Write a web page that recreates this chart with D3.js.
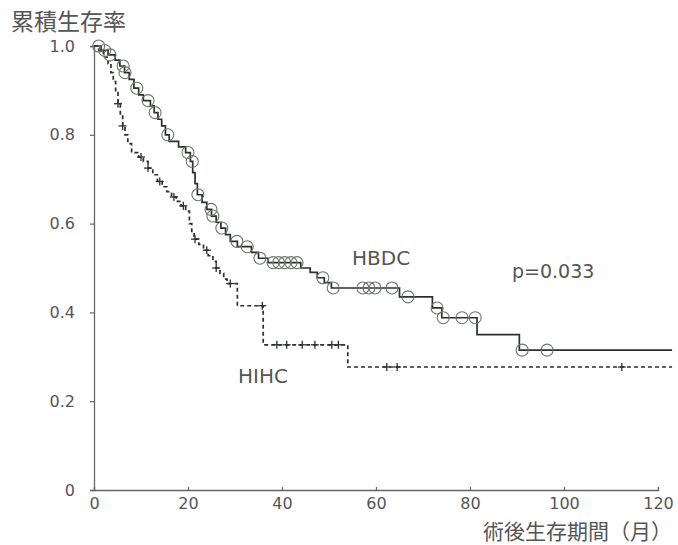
<!DOCTYPE html>
<html>
<head>
<meta charset="utf-8">
<script src="https://cdn.jsdelivr.net/npm/d3@7"></script>
<style>
  html, body { margin: 0; padding: 0; background: #fff; }
  svg { display: block; }
  text { font-family: "DejaVu Sans", "Noto Sans", sans-serif; fill: #555; }
  .cjk { font-family: "Noto Sans CJK JP", "Noto Sans CJK SC", sans-serif; }
</style>
</head>
<body>
<div id="chart"></div>
<script>
// Kaplan-Meier steps (months, cumulative survival)
const hbdcTimes = [0, 1.5, 3, 4.5, 5.5, 6.5, 7.5, 8.5, 9.5, 10.5, 12, 12.8, 13.6, 14.4, 15.2, 16, 18, 19.5, 20.5, 21, 21.5, 22,
  23, 24, 25, 26, 27, 28, 29, 30.5, 33.5, 35, 37, 44, 46, 47.5, 49, 50.5, 65, 72, 74, 81.5, 90.5];
const hbdcSurv = [1, 0.99, 0.98, 0.968, 0.955, 0.94, 0.925, 0.905, 0.89, 0.877, 0.865, 0.85, 0.835, 0.82, 0.8, 0.785, 0.773, 0.76, 0.74, 0.715, 0.69, 0.665,
  0.648, 0.632, 0.617, 0.603, 0.59, 0.575, 0.56, 0.548, 0.535, 0.522, 0.512, 0.5, 0.49, 0.478, 0.467, 0.455, 0.435, 0.41, 0.388, 0.35, 0.315];
const hbdcCensor = [1, 2.3, 3.4, 6.2, 6.6, 9.1, 11.5, 13, 15.7, 20, 20.9, 22.1, 24.9, 25.3, 27.2, 30.4, 32.6, 35.3,
  38.1, 39.3, 40.6, 41.9, 43.2, 48.7, 50.9, 57.2, 58.5, 59.8, 63.4, 66.8, 73, 74.3, 78.3, 81.1, 91.1, 96.4];

const hihcTimes = [0, 1, 2, 3, 3.6, 4.1, 4.6, 5.1, 5.6, 6.1, 6.6, 7.2, 8, 9.5, 10.5, 11.5, 12.5, 13.5, 14.5, 15.5, 16.5, 17.5,
  18.5, 19.5, 20.3, 20.8, 21.3, 22.3, 23.3, 24.3, 25.3, 26, 26.8, 27.6, 28.3, 30.5, 36, 54];
const hihcSurv = [1, 0.99, 0.975, 0.96, 0.94, 0.92, 0.895, 0.87, 0.845, 0.82, 0.8, 0.78, 0.76, 0.75, 0.74, 0.725, 0.71, 0.695, 0.683, 0.672, 0.66, 0.65,
  0.64, 0.628, 0.6, 0.58, 0.565, 0.553, 0.54, 0.528, 0.515, 0.5, 0.488, 0.475, 0.465, 0.415, 0.327, 0.277];
const hihcCensor = [5.1, 6.1, 10, 11.5, 14, 17, 19, 21.5, 24, 26, 29, 35.8, 38.9, 41, 44.3, 47, 50.6, 52, 62.3, 64.5, 112.3];

const followEnd = 123;
const xTicks = [0, 20, 40, 60, 80, 100, 120];
const yTicks = [0, 0.2, 0.4, 0.6, 0.8, 1.0];

const W = 678, H = 545;
const svg = d3.select('#chart').append('svg')
  .attr('width', W)
  .attr('height', H);

const x = d3.scaleLinear().domain([0, 120]).range([94, 658]);
const y = d3.scaleLinear().domain([0, 1]).range([490, 46]);

const axisColor = '#666';
const lineColor = '#2b302c';

// axes
const yAxis = svg.append('g')
  .attr('transform', `translate(${x(0)},0)`)
  .call(d3.axisLeft(y).tickValues(yTicks).tickSize(4).tickPadding(15)
    .tickFormat(d => d === 0 ? '0' : d.toFixed(1)));
const xAxis = svg.append('g')
  .attr('transform', `translate(0,${y(0)})`)
  .call(d3.axisBottom(x).tickValues(xTicks).tickSize(-3).tickPadding(8));

[yAxis, xAxis].forEach(g => {
  g.select('.domain').attr('stroke', axisColor).attr('stroke-width', 1.3);
  g.selectAll('.tick line').attr('stroke', axisColor).attr('stroke-width', 1.2);
  g.selectAll('.tick text')
    .style('font-family', '"DejaVu Sans", sans-serif')
    .style('font-size', '16px')
    .attr('fill', '#555');
});
xAxis.selectAll('.tick text').attr('dy', '0.71em');

// curves
function steps(times, surv) {
  const pts = times.map((t, i) => [t, surv[i]]);
  pts.push([followEnd, surv[surv.length - 1]]);
  return pts;
}
function survAt(times, surv, t) {
  let s = surv[0];
  times.forEach((tt, i) => { if (tt <= t) s = surv[i]; });
  return s;
}
const line = d3.line()
  .x(d => x(d[0]))
  .y(d => y(d[1]))
  .curve(d3.curveStepAfter);

svg.append('path')
  .datum(steps(hihcTimes, hihcSurv))
  .attr('fill', 'none')
  .attr('stroke', lineColor)
  .attr('stroke-width', 1.7)
  .attr('stroke-dasharray', '4 3')
  .attr('d', line);

svg.append('path')
  .datum(steps(hbdcTimes, hbdcSurv))
  .attr('fill', 'none')
  .attr('stroke', lineColor)
  .attr('stroke-width', 1.7)
  .attr('d', line);

// censor marks
svg.selectAll('circle.cens')
  .data(hbdcCensor)
  .enter().append('circle')
  .attr('class', 'cens')
  .attr('cx', d => x(d))
  .attr('cy', d => y(survAt(hbdcTimes, hbdcSurv, d)))
  .attr('r', 6)
  .attr('fill', 'none')
  .attr('stroke', '#6f756f')
  .attr('stroke-width', 1.1);

const plus = svg.selectAll('g.plus')
  .data(hihcCensor)
  .enter().append('g')
  .attr('class', 'plus')
  .attr('transform', d => `translate(${x(d)},${y(survAt(hihcTimes, hihcSurv, d))})`);
plus.append('line').attr('x1', -4).attr('x2', 4).attr('stroke', lineColor).attr('stroke-width', 1.3);
plus.append('line').attr('y1', -4).attr('y2', 4).attr('stroke', lineColor).attr('stroke-width', 1.3);

// labels
svg.append('text')
  .attr('class', 'cjk')
  .attr('x', 11)
  .attr('y', 30)
  .style('font-size', '23px')
  .attr('fill', '#444')
  .text('累積生存率');

svg.append('text')
  .attr('class', 'cjk')
  .attr('x', 672)
  .attr('y', 539)
  .attr('text-anchor', 'end')
  .style('font-size', '21px')
  .attr('fill', '#444')
  .text('術後生存期間（月）');

svg.append('text')
  .attr('x', 352)
  .attr('y', 265)
  .style('font-size', '20px')
  .text('HBDC');

svg.append('text')
  .attr('x', 238)
  .attr('y', 383)
  .style('font-size', '20px')
  .text('HIHC');

svg.append('text')
  .attr('x', 512)
  .attr('y', 278)
  .style('font-size', '19px')
  .text('p=0.033');
</script>
</body>
</html>
